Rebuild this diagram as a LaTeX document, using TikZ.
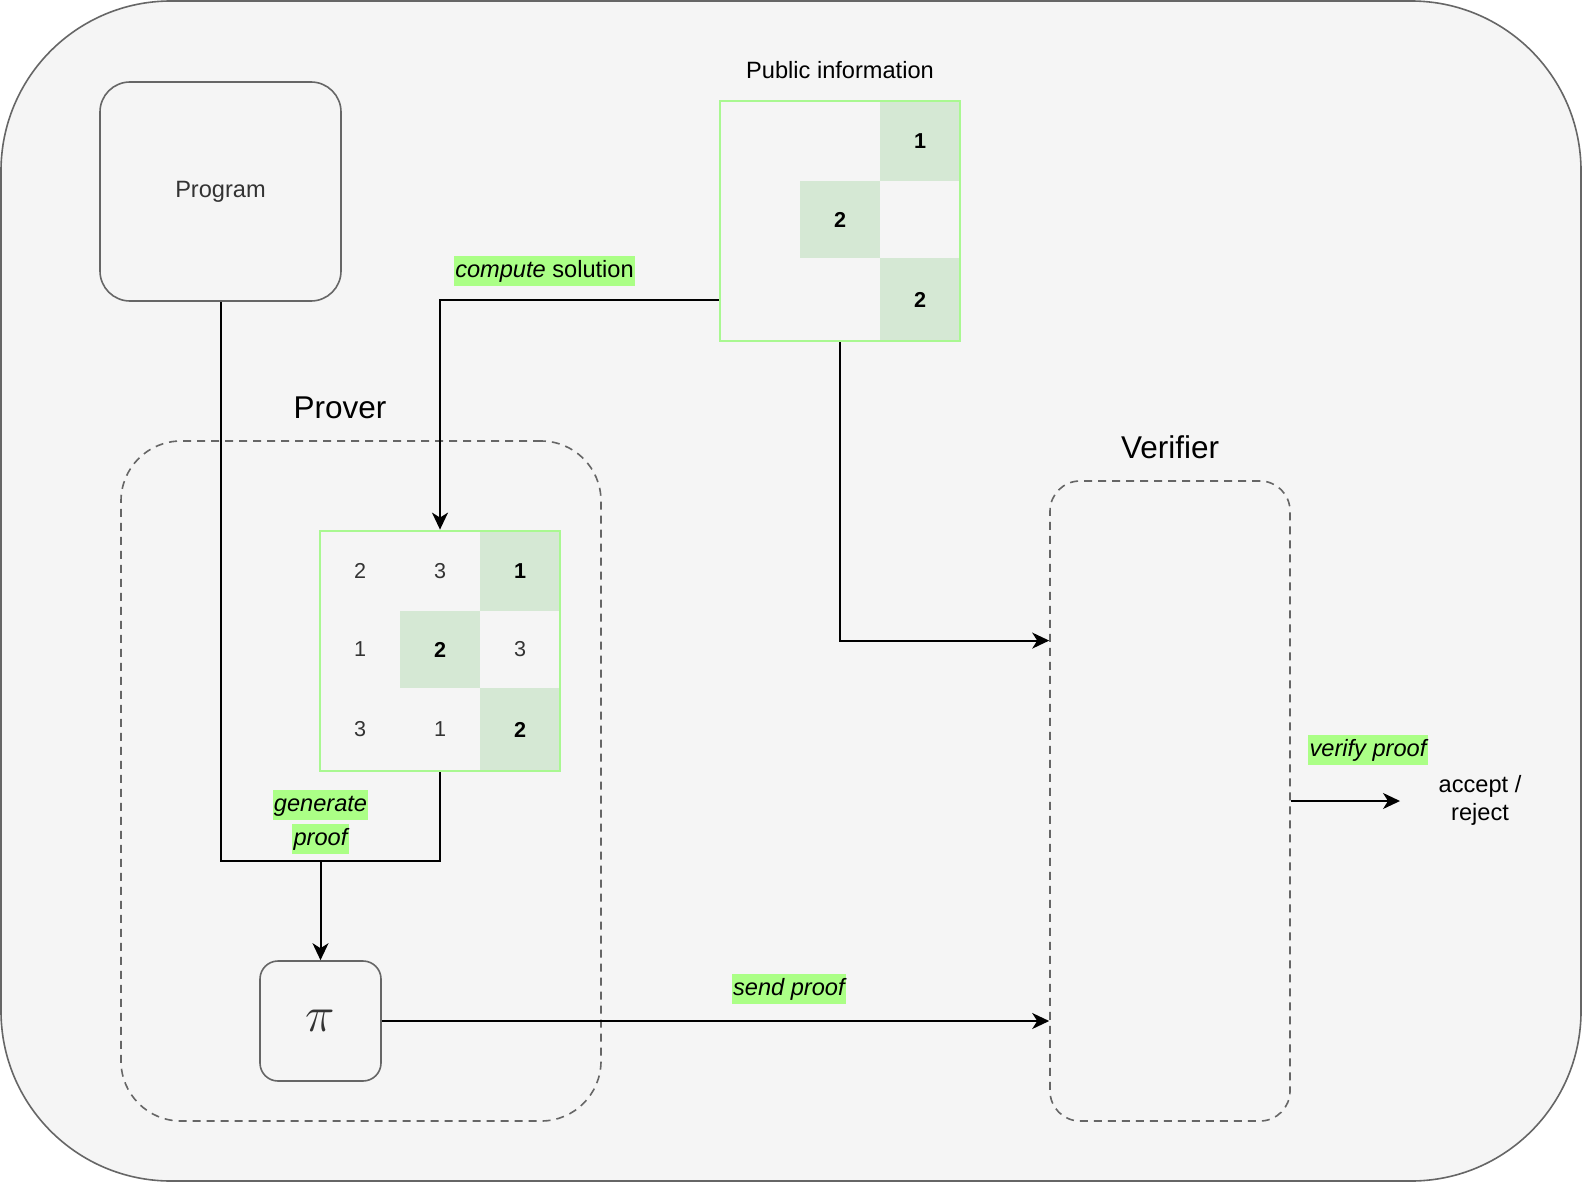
\documentclass[tikz,border=0pt]{standalone}
\usepackage{fontspec}
\setmainfont{Liberation Sans}
\usepackage{tikz}
\usetikzlibrary{arrows.meta,positioning,fit,calc}

\definecolor{paper}{HTML}{F5F5F5}
\definecolor{edge}{HTML}{666666}
\definecolor{ink}{HTML}{333333}
\definecolor{cellgreen}{HTML}{D5E8D4}
\definecolor{gridgreen}{HTML}{A9F891}
\definecolor{hilite}{HTML}{ABFF86}

\newcommand{\hl}[1]{{\setlength{\fboxsep}{0.6pt}\colorbox{hilite}{\rule[-3.6pt]{0pt}{13.6pt}#1}}}

\tikzset{
  box/.style={draw=edge, line width=0.8pt, fill=paper, text=ink, rounded corners=15pt},
  zone/.style={draw=edge, line width=0.8pt, dash pattern=on 4pt off 3pt, rounded corners=#1},
  cell/.style={minimum width=40pt, minimum height=40pt, inner sep=0pt, text=ink, font=\fontsize{10.8}{13}\selectfont},
  hit/.style={cell, fill=cellgreen, text=black, font=\fontsize{10.8}{13}\selectfont\bfseries},
  midrow/.style={minimum height=38.5pt},
  lowrow/.style={minimum height=41.5pt},
  frame/.style={draw=gridgreen, line width=1pt, inner sep=0pt},
  tag/.style={inner sep=0pt, align=center},
  title/.style={font=\fontsize{15.75}{18}\selectfont},
  link/.style={->, line width=1pt},
}

\begin{document}
\begin{tikzpicture}[x=0.5pt, y=-0.5pt, node distance=40pt, on grid,
    font=\fontsize{11.8}{14}\selectfont,
    >={Stealth[length=8.5pt,width=8pt,inset=2.5pt]}]
  \useasboundingbox (0,0) rectangle (1582,1182);
  \node[box, rounded corners=85pt, minimum width=790pt, minimum height=590pt] (world) at (791,591) {};

  \node[box, minimum width=120.5pt, minimum height=109.5pt] (prog) at (220.5,191.5) {Program};

  \node[zone=30pt, minimum width=240pt, minimum height=340pt] (prov) at (361,781) {};
  \node[title] (provname) [above=7pt of prov.north, xshift=-10.5pt] {Prover};
  \node[zone=15pt, minimum width=120pt, minimum height=320pt] (ver) at (1170,801) {};
  \node[title] (vername) [above=7pt of ver.north] {Verifier};

  % solution grid
  \node[cell] (s11) at (360,571) {2};
  \node[cell] (s12) [right=of s11] {3};
  \node[hit]  (s13) [right=of s12] {1};
  \node[cell, midrow] (s21) [below=39.25pt of s11] {1};
  \node[hit, midrow]  (s22) [right=of s21] {2};
  \node[cell, midrow] (s23) [right=of s22] {3};
  \node[cell, lowrow] (s31) [below=of s21] {3};
  \node[cell, lowrow] (s32) [right=of s31] {1};
  \node[hit, lowrow]  (s33) [right=of s32] {2};
  \node[frame, fit=(s11)(s33)] (sol) {};

  % public grid
  \node[cell] (p11) at (760,141) {};
  \node[hit]  (p13) [right=80pt of p11] {1};
  \node[hit, midrow] (p22) [below left=39.25pt and 40pt of p13] {2};
  \node[hit, lowrow] (p33) [below=79.25pt of p13] {2};
  \node[frame, fit=(p11)(p33)] (pub) {};
  \node (pubname) [above=7pt of pub.north] {Public information};

  \node[box, rounded corners=9pt, minimum width=60.5pt, minimum height=60pt,
        font=\fontsize{24}{28}\selectfont] (proof) at (320.5,1021) {$\pi$};

  \coordinate (merge) at (proof.north |- 0,861);
  \coordinate (verin) at ($(ver.north west)!0.25!(ver.south west)$);
  \coordinate (verdict) at (1400,801);

  \draw[link] (pub.west |- p33) -| node[tag, pos=0.3125, above=6.5pt] (lblsolve)
      {\hl{\textit{compute} solution}} (sol.north);
  \draw[link] (pub.south) |- (verin);
  \draw[line width=1pt] (prog.south) |- node[tag, pos=1, above=3pt,
      font=\fontsize{11.8}{17}\selectfont] (lblgen)
      {\hl{\itshape generate}\\\hl{\itshape proof}} (merge);
  \draw[line width=1pt] (sol.south) |- (merge);
  \draw[link] (merge) -- (proof.north);
  \draw[link] (proof.east) -- node[tag, pos=0.61, above=8pt] (lblsend)
      {\hl{\itshape send proof}} (proof.east -| ver.west);
  \draw[link] (ver.east) -- (verdict);
  \node[tag] (lblcheck) at (1368,750) {\hl{\itshape verify proof}};
  \node[align=center] (outcome) at (1480,800) {accept /\\reject};
\end{tikzpicture}
\end{document}
